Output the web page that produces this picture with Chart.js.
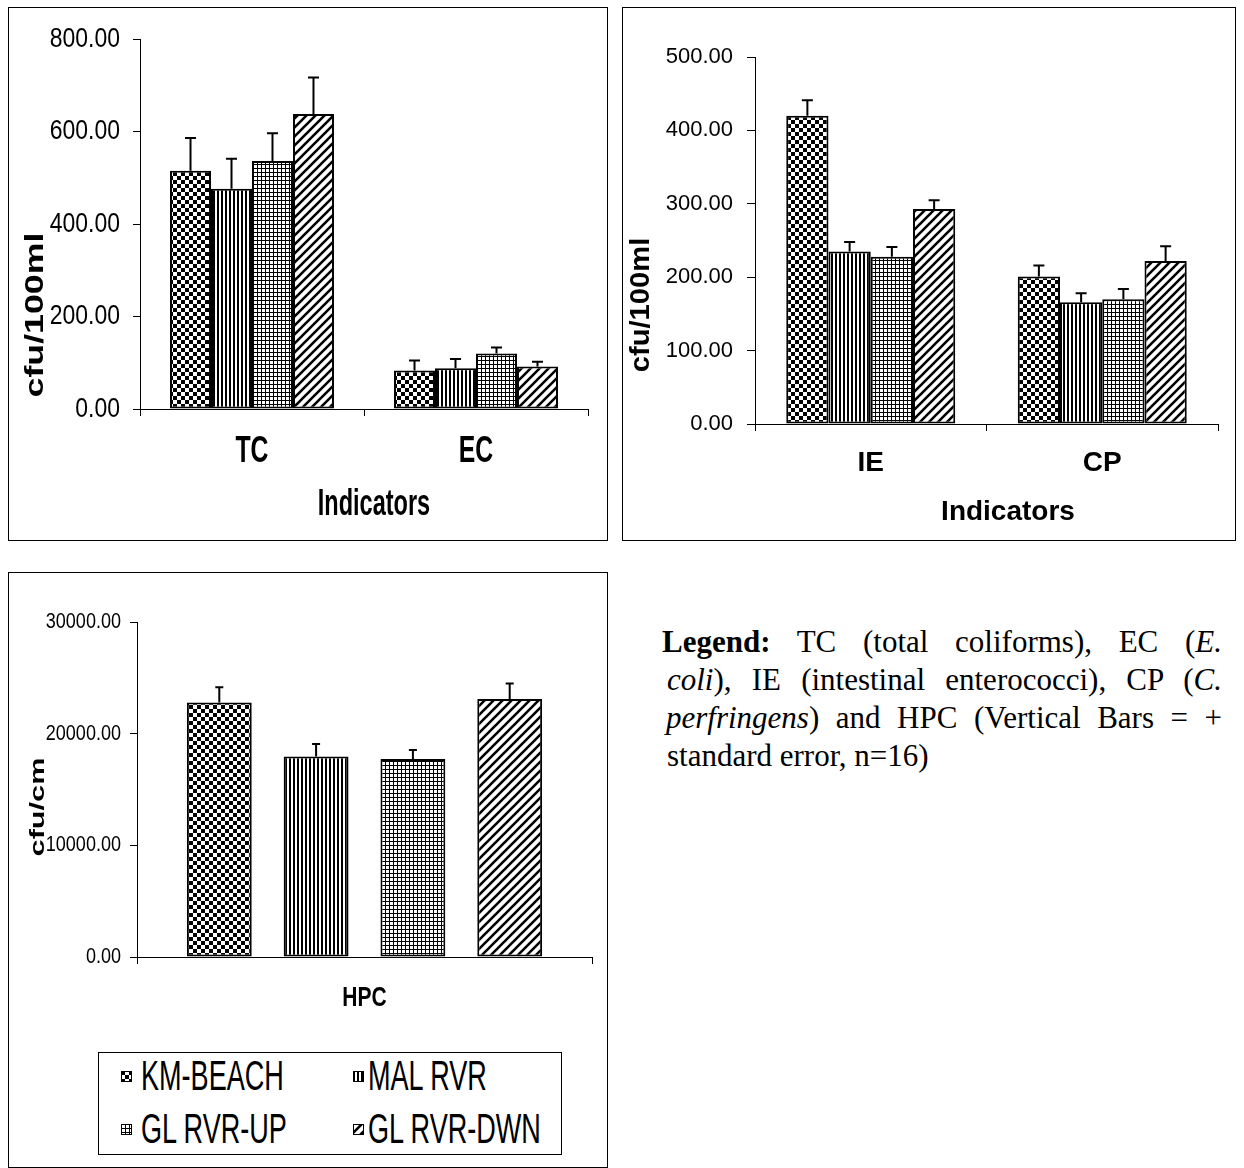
<!DOCTYPE html>
<html>
<head>
<meta charset="utf-8">
<script src="https://cdn.jsdelivr.net/npm/chart.js@4.4.1/dist/chart.umd.min.js"></script>
<style>
  body { margin: 0; background: #fff; width: 1244px; height: 1168px; position: relative; overflow: hidden; }
  .panel { position: absolute; border: 1px solid #000; box-sizing: border-box; background: #fff; }
  .panel canvas { display: block; }
  #legendBox { position: absolute; left: 98px; top: 1052px; width: 464px; height: 103px; border: 1px solid #000; box-sizing: border-box; background: #fff; }
  .item { position: absolute; }
  .item canvas { position: absolute; }
  .item span { position: absolute; white-space: nowrap; font-family: "Liberation Sans", Arial, sans-serif; font-size: 33px; line-height: 33px; transform: scale(0.82, 1.27); transform-origin: left center; color: #000; }
  #note { position: absolute; left: 662px; top: 623px; width: 560px; font-family: "Liberation Serif", "Times New Roman", serif; font-size: 31px; line-height: 38px; color: #000; }
  #note div { white-space: nowrap; }
  #note .j { text-align: justify; text-align-last: justify; white-space: normal; }
</style>
</head>
<body>
<div class="panel" style="left:8px;top:7px;width:600px;height:534px"><canvas id="chart1" width="598" height="532"></canvas></div>
<div class="panel" style="left:622px;top:7px;width:614px;height:534px"><canvas id="chart2" width="612" height="532"></canvas></div>
<div class="panel" style="left:8px;top:572px;width:600px;height:596px"><canvas id="chart3" width="598" height="594"></canvas></div>
<div id="legendBox"></div>
<div id="note">
  <div class="j"><b>Legend:</b> TC (total coliforms), EC (<i>E.</i></div>
  <div class="j" style="padding-left:5px"><i>coli</i>), IE (intestinal enterococci), CP (<i>C.</i></div>
  <div class="j" style="padding-left:4px"><i>perfringens</i>) and HPC (Vertical Bars = +</div>
  <div style="padding-left:5px">standard error, n=16)</div>
</div>
<script>
// sampling sites (series)
const sites = ['KM-BEACH', 'MAL RVR', 'GL RVR-UP', 'GL RVR-DWN'];

// chart 1: TC / EC
const cats1 = ['TC', 'EC'];
const kmBeach1 = [515, 83];
const malRvr1 = [476, 88];
const glUp1 = [536, 120];
const glDwn1 = [638, 92];
const kmBeach1Err = [71, 22];
const malRvr1Err = [65, 20];
const glUp1Err = [60, 13];
const glDwn1Err = [79, 10];

// chart 2: IE / CP
const cats2 = ['IE', 'CP'];
const kmBeach2 = [420, 201];
const malRvr2 = [235, 166];
const glUp2 = [228, 170];
const glDwn2 = [293, 222];
const kmBeach2Err = [21, 15];
const malRvr2Err = [13, 12];
const glUp2Err = [13, 14];
const glDwn2Err = [12, 20];

// chart 3: HPC
const cats3 = ['HPC'];
const kmBeach3 = [22800];
const malRvr3 = [17950];
const glUp3 = [17730];
const glDwn3 = [23100];
const kmBeach3Err = [1350];
const malRvr3Err = [1130];
const glUp3Err = [810];
const glDwn3Err = [1400];

const SANS = '"Liberation Sans", Arial, sans-serif';

// fill patterns (one per site)
function makePattern(ctx, kind) {
    const c = document.createElement('canvas');
    const g = c.getContext('2d');
    if (kind === 0) { // checker
        c.width = c.height = 8;
        g.fillStyle = '#fff'; g.fillRect(0, 0, 8, 8);
        g.fillStyle = '#000'; g.fillRect(0, 0, 4, 4); g.fillRect(4, 4, 4, 4);
    } else if (kind === 1) { // vertical lines
        c.width = 4; c.height = 4;
        g.fillStyle = '#fff'; g.fillRect(0, 0, 4, 4);
        g.fillStyle = '#000'; g.fillRect(0, 0, 2, 4);
    } else if (kind === 2) { // small grid
        c.width = c.height = 4;
        g.fillStyle = '#fff'; g.fillRect(0, 0, 4, 4);
        g.fillStyle = '#000'; g.fillRect(0, 0, 1, 4); g.fillRect(0, 0, 4, 1);
    } else { // diagonal hatch
        c.width = c.height = 9;
        g.fillStyle = '#fff'; g.fillRect(0, 0, 9, 9);
        g.strokeStyle = '#000'; g.lineWidth = 2.6;
        g.beginPath();
        g.moveTo(-1, 10); g.lineTo(10, -1);
        g.moveTo(-2, 2); g.lineTo(2, -2);
        g.moveTo(7, 11); g.lineTo(11, 7);
        g.stroke();
    }
    return ctx.createPattern(c, 'repeat');
}

function drawScaled(ctx, text, x, y, font, sx, sy, align) {
    ctx.save();
    ctx.translate(x, y);
    ctx.scale(sx || 1, sy || 1);
    ctx.font = font;
    ctx.textAlign = align;
    ctx.textBaseline = 'middle';
    ctx.fillText(text, 0, 0);
    ctx.restore();
}

// upward error bars (+ standard error)
const errorBars = {
    id: 'errorBars',
    afterDatasetsDraw(chart, args, opts) {
        const ctx = chart.ctx;
        const yScale = chart.scales.y;
        ctx.save();
        ctx.strokeStyle = '#000';
        ctx.lineWidth = 2;
        chart.data.datasets.forEach((ds, i) => {
            chart.getDatasetMeta(i).data.forEach((bar, j) => {
                const top = yScale.getPixelForValue(ds.data[j] + ds.errors[j]);
                ctx.beginPath();
                ctx.moveTo(bar.x, bar.y);
                ctx.lineTo(bar.x, top);
                ctx.moveTo(bar.x - opts.cap / 2, top);
                ctx.lineTo(bar.x + opts.cap / 2, top);
                ctx.stroke();
            });
        });
        ctx.restore();
    }
};

// tick labels from the scales, drawn condensed like the original figure
const tickLabels = {
    id: 'tickLabels',
    afterDraw(chart, args, opts) {
        const ctx = chart.ctx;
        const xs = chart.scales.x, ys = chart.scales.y;
        ctx.save();
        ctx.fillStyle = '#000';
        ys.ticks.forEach((t, i) => {
            drawScaled(ctx, t.label, ys.right - opts.y.offset, ys.getPixelForTick(i), opts.y.font, opts.y.sx, 1, 'right');
        });
        xs.ticks.forEach((t, i) => {
            drawScaled(ctx, t.label, xs.getPixelForTick(i), xs.top + opts.x.offset, opts.x.font, opts.x.sx, opts.x.sy, 'center');
        });
        ctx.restore();
    }
};

// axis titles
const axisTitles = {
    id: 'axisTitles',
    afterDraw(chart, args, opts) {
        const ctx = chart.ctx;
        (opts.items || []).forEach(t => {
            ctx.save();
            ctx.fillStyle = '#000';
            ctx.translate(t.x, t.y);
            ctx.rotate(t.rot || 0);
            drawScaled(ctx, t.text, 0, 0, t.font, t.sx, t.sy, 'center');
            ctx.restore();
        });
    }
};

function makeChart(id, cfg) {
    const ctx = document.getElementById(id).getContext('2d');
    const series = [cfg.km, cfg.mal, cfg.up, cfg.dwn];
    const errs = [cfg.kmErr, cfg.malErr, cfg.upErr, cfg.dwnErr];
    return new Chart(ctx, {
        type: 'bar',
        data: {
            labels: cfg.labels,
            datasets: sites.map((name, i) => ({
                label: name,
                data: series[i],
                errors: errs[i],
                backgroundColor: makePattern(ctx, i),
                borderColor: '#000',
                borderWidth: 2,
                borderSkipped: false,
                categoryPercentage: cfg.catPct,
                barPercentage: cfg.barPct
            }))
        },
        plugins: [errorBars, tickLabels, axisTitles],
        options: {
            responsive: false,
            animation: false,
            layout: { padding: cfg.padding },
            plugins: {
                legend: { display: false },
                tooltip: { enabled: false },
                errorBars: { cap: cfg.cap },
                tickLabels: { x: cfg.xLab, y: cfg.yLab },
                axisTitles: { items: cfg.titles }
            },
            scales: {
                x: {
                    grid: { drawOnChartArea: false, tickLength: 7, color: '#000', offset: true },
                    border: { color: '#000', width: 1 },
                    ticks: { display: false },
                    afterFit: s => { s.height = cfg.xHeight; }
                },
                y: {
                    min: 0,
                    max: cfg.yMax,
                    grid: { drawOnChartArea: false, tickLength: cfg.yTick, color: '#000' },
                    border: { color: '#000', width: 1 },
                    ticks: {
                        display: false,
                        stepSize: cfg.yStep,
                        callback: v => v.toFixed(2)
                    },
                    afterFit: s => { s.width = cfg.yWidth; }
                }
            }
        }
    });
}

makeChart('chart1', {
    labels: cats1,
    km: kmBeach1, mal: malRvr1, up: glUp1, dwn: glDwn1,
    kmErr: kmBeach1Err, malErr: malRvr1Err, upErr: glUp1Err, dwnErr: glDwn1Err,
    catPct: 0.732, barPct: 1.0, cap: 11,
    padding: { top: 31, right: 19, left: 0, bottom: 0 },
    yWidth: 131, xHeight: 131, yMax: 800, yStep: 200, yTick: 7,
    yLab: { font: '28px ' + SANS, sx: 0.82, offset: 20 },
    xLab: { font: 'bold 37px ' + SANS, sx: 0.67, sy: 1, offset: 43 },
    titles: [
        { text: 'cfu/100ml', x: 27, y: 307, rot: -Math.PI / 2, font: 'bold 26px ' + SANS, sx: 1.375 },
        { text: 'Indicators', x: 365, y: 497, font: 'bold 28px ' + SANS, sx: 0.84, sy: 1.3 }
    ]
});

makeChart('chart2', {
    labels: cats2,
    km: kmBeach2, mal: malRvr2, up: glUp2, dwn: glDwn2,
    kmErr: kmBeach2Err, malErr: malRvr2Err, upErr: glUp2Err, dwnErr: glDwn2Err,
    catPct: 0.73, barPct: 1.0, cap: 11,
    padding: { top: 49, right: 17, left: 0, bottom: 0 },
    yWidth: 132, xHeight: 116, yMax: 500, yStep: 100, yTick: 8,
    yLab: { font: '22px ' + SANS, sx: 1, offset: 22 },
    xLab: { font: 'bold 28px ' + SANS, sx: 1, sy: 1, offset: 39 },
    titles: [
        { text: 'cfu/100ml', x: 19, y: 297, rot: -Math.PI / 2, font: 'bold 27px ' + SANS, sx: 1.08 },
        { text: 'Indicators', x: 385, y: 504, font: 'bold 28px ' + SANS }
    ]
});

makeChart('chart3', {
    labels: cats3,
    km: kmBeach3, mal: malRvr3, up: glUp3, dwn: glDwn3,
    kmErr: kmBeach3Err, malErr: malRvr3Err, upErr: glUp3Err, dwnErr: glDwn3Err,
    catPct: 0.851, barPct: 0.67, cap: 8,
    padding: { top: 49, right: 15, left: 0, bottom: 0 },
    yWidth: 128, xHeight: 210, yMax: 30000, yStep: 10000, yTick: 7,
    yLab: { font: '22px ' + SANS, sx: 0.82, offset: 16 },
    xLab: { font: 'bold 28px ' + SANS, sx: 0.75, sy: 1, offset: 41 },
    titles: [
        { text: 'cfu/cm', x: 29, y: 234, rot: -Math.PI / 2, font: 'bold 21px ' + SANS, sx: 1.46 }
    ]
});

// boxed legend under the HPC chart
const legendBox = document.getElementById('legendBox');
const legendPos = [[22, 23], [254, 23], [22, 76], [254, 76]];
sites.forEach((name, i) => {
    const item = document.createElement('div');
    item.className = 'item';
    item.style.left = legendPos[i][0] + 'px';
    item.style.top = legendPos[i][1] + 'px';
    const sw = document.createElement('canvas');
    sw.width = 11; sw.height = 11;
    sw.style.left = '0px'; sw.style.top = '-5px';
    const g = sw.getContext('2d');
    g.fillStyle = makePattern(g, i);
    g.fillRect(0, 0, 11, 11);
    g.strokeStyle = '#000'; g.lineWidth = 1;
    g.strokeRect(0.5, 0.5, 10, 10);
    const label = document.createElement('span');
    label.textContent = name;
    label.style.left = (i % 2 === 0 ? 20 : 15) + 'px';
    label.style.top = '-17px';
    item.appendChild(sw);
    item.appendChild(label);
    legendBox.appendChild(item);
});
</script>
</body>
</html>
